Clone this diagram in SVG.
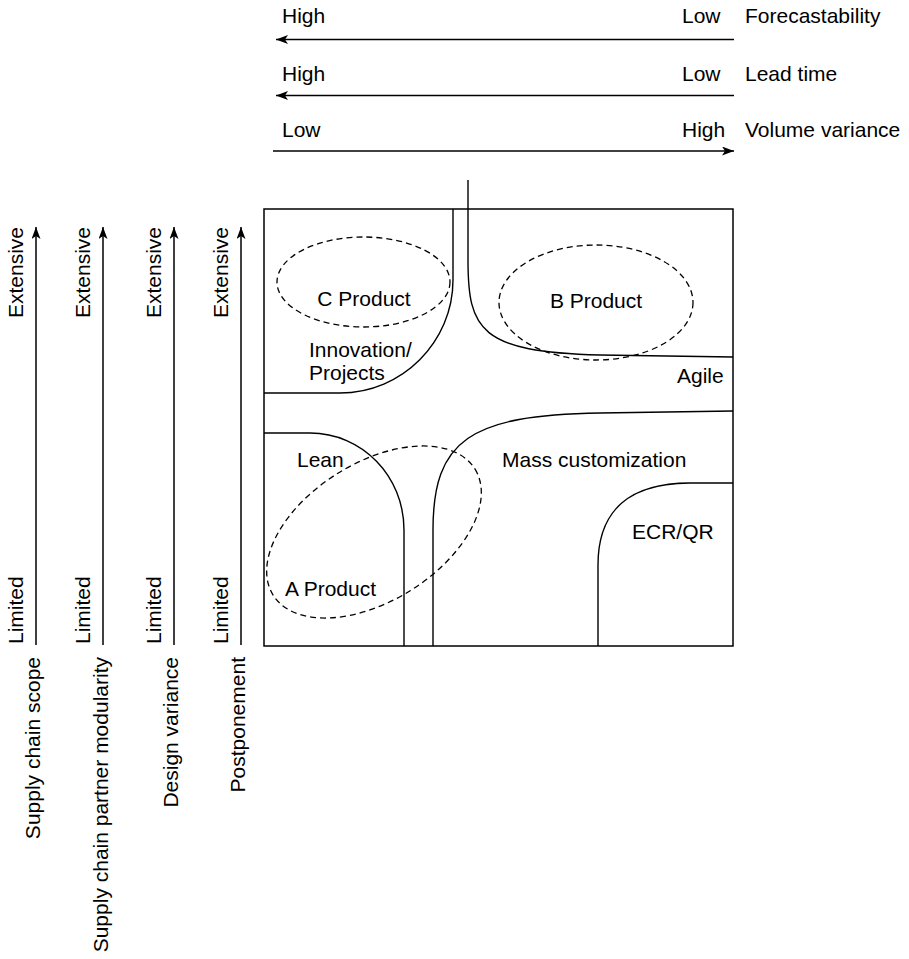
<svg xmlns="http://www.w3.org/2000/svg" width="909" height="959" viewBox="0 0 909 959">
<style>
text{font-family:"Liberation Sans",Arial,sans-serif;font-size:21px;fill:#000}
.ax{stroke:#000;stroke-width:1.5;fill:none}
.cv{stroke:#000;stroke-width:1.4;fill:none}
.el{stroke:#000;stroke-width:1.3;fill:none;stroke-dasharray:6 4}
.box{stroke:#000;stroke-width:1.5;fill:none}
.m{text-anchor:middle}
.e{text-anchor:end}
</style>
<defs>
<marker id="ah" viewBox="0 0 12 9" refX="12" refY="4.5" markerWidth="12" markerHeight="9" orient="auto" markerUnits="userSpaceOnUse">
<path d="M0,0 L12,4.5 L0,9 L3,4.5 z" fill="#000"/>
</marker>
</defs>
<rect width="909" height="959" fill="#fff"/>

<g id="top-axes">
<g id="axis-forecastability">
<text x="282" y="23">High</text>
<text x="682" y="23">Low</text>
<text x="745" y="23">Forecastability</text>
</g>
<g id="axis-leadtime">
<text x="282" y="81">High</text>
<text x="682" y="81">Low</text>
<text x="745" y="81">Lead time</text>
</g>
<g id="axis-volume">
<text x="282" y="137">Low</text>
<text x="682" y="137">High</text>
<text x="745" y="137">Volume variance</text>
</g>
</g>

<g id="left-axes">
<g id="axis-scope">
<text transform="translate(23,318) rotate(-90)">Extensive</text>
<text transform="translate(23,644) rotate(-90)">Limited</text>
<text class="e" transform="translate(40,657) rotate(-90)">Supply chain scope</text>
</g>
<g id="axis-modularity">
<text transform="translate(90,318) rotate(-90)">Extensive</text>
<text transform="translate(90,644) rotate(-90)">Limited</text>
<text class="e" transform="translate(108,657) rotate(-90)">Supply chain partner modularity</text>
</g>
<g id="axis-design">
<text transform="translate(161,318) rotate(-90)">Extensive</text>
<text transform="translate(161,644) rotate(-90)">Limited</text>
<text class="e" transform="translate(178,657) rotate(-90)">Design variance</text>
</g>
<g id="axis-postponement">
<text transform="translate(228,318) rotate(-90)">Extensive</text>
<text transform="translate(228,644) rotate(-90)">Limited</text>
<text class="e" transform="translate(245,657) rotate(-90)">Postponement</text>
</g>
</g>

<g id="connectors">
<path class="ax" d="M734,39.5 H276" marker-end="url(#ah)"/>
<path class="ax" d="M734,95.5 H276" marker-end="url(#ah)"/>
<path class="ax" d="M273,151 H734" marker-end="url(#ah)"/>
<path class="ax" d="M36,645 V227" marker-end="url(#ah)"/>
<path class="ax" d="M103,645 V227" marker-end="url(#ah)"/>
<path class="ax" d="M174,645 V227" marker-end="url(#ah)"/>
<path class="ax" d="M241,645 V227" marker-end="url(#ah)"/>
</g>

<g id="matrix">
<rect class="box" x="264" y="209" width="469" height="437"/>
</g>

<g id="region-innovation">
<path class="cv" d="M453,209 V280 C453,342 402,393 340,393 H264"/>
<text x="309" y="357">Innovation/</text>
<text x="309" y="380">Projects</text>
</g>
<g id="region-agile">
<path class="cv" d="M468,180 V260 C468,330 480,352 600,355 L733,357"/>
<text x="677" y="383">Agile</text>
</g>
<g id="region-lean">
<path class="cv" d="M264,433 H310 C362,433 404,476 404,530 V646"/>
<text x="297" y="467">Lean</text>
</g>
<g id="region-mass">
<path class="cv" d="M433,646 V530 C433,440 470,415 600,413 L733,411"/>
<text x="502" y="467">Mass customization</text>
</g>
<g id="region-ecr">
<path class="cv" d="M598,646 V565 C598,510 630,483 690,483 H733"/>
<text x="632" y="539">ECR/QR</text>
</g>

<g id="c-product">
<ellipse class="el" cx="363.5" cy="282" rx="86.5" ry="45"/>
<text class="m" x="364" y="306">C Product</text>
</g>
<g id="b-product">
<ellipse class="el" cx="596" cy="302.5" rx="97" ry="57.5"/>
<text class="m" x="596" y="308">B Product</text>
</g>
<g id="a-product">
<ellipse class="el" cx="374" cy="532" rx="119" ry="69" transform="rotate(-32 374 532)"/>
<text x="285" y="596">A Product</text>
</g>
</svg>
